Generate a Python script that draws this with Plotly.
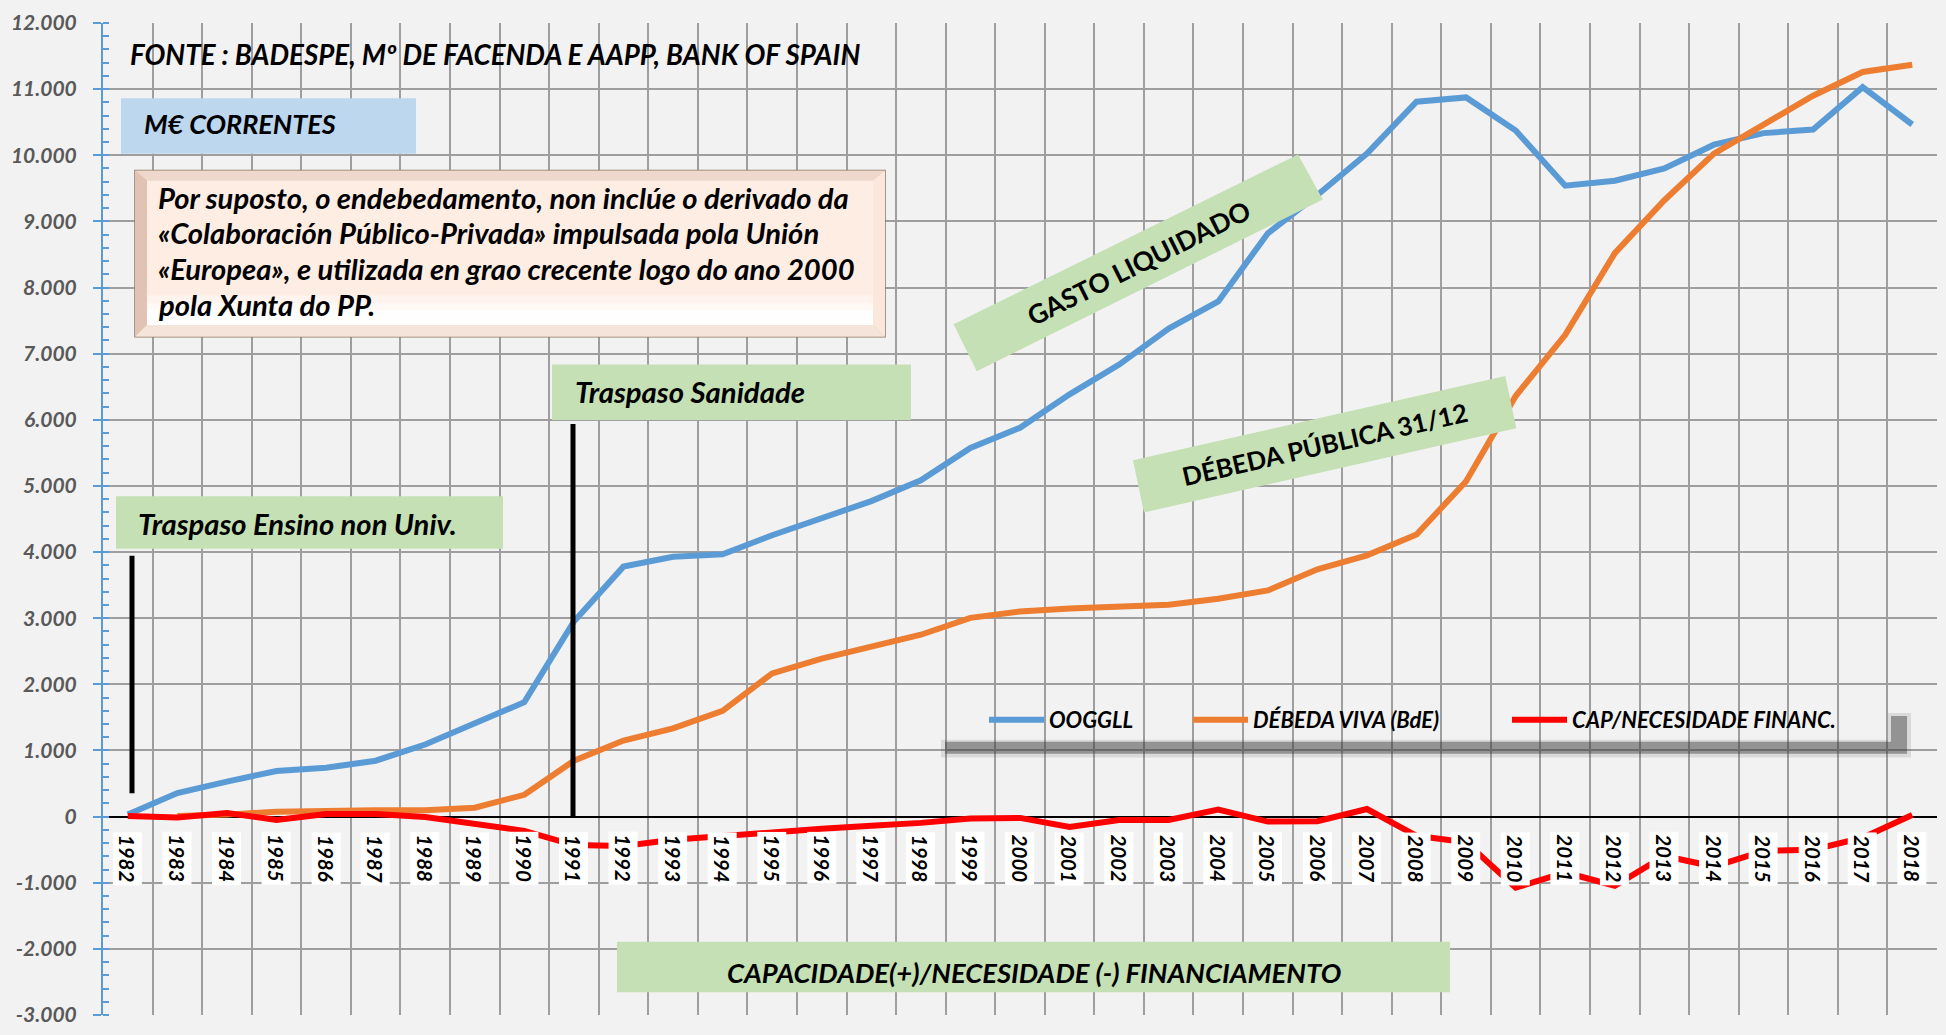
import plotly.graph_objects as go

# ---------------- data ----------------
years = list(range(1982, 2019))
ooggll = [30, 355, 530, 690, 740, 845, 1090, 1405, 1730, 2950, 3780, 3930, 3965,
          4255, 4510, 4770, 5085, 5575, 5880, 6385, 6835, 7380, 7790, 8820, 9400,
          10025, 10810, 10875, 10375, 9540, 9615, 9800, 10160, 10335, 10390, 11030, 10465]
debeda_viva = [None, 10, 30, 75, 90, 95, 95, 135, 330, 845, 1150, 1335, 1600,
               2165, 2390, 2570, 2750, 3005, 3100, 3145, 3175, 3205, 3295, 3420, 3740,
               3950, 4265, 5070, 6360, 7285, 8520, 9320, 10025, 10450, 10900, 11260, 11370]
cap_nec = [10, -15, 55, -50, 40, 40, -5, -105, -215, -430, -445, -350, -290,
           -245, -185, -137, -95, -30, -20, -155, -50, -50, 105, -75, -70,
           115, -290, -390, -1075, -845, -1045, -595, -755, -520, -500, -320, 25]
series_names = ["OOGGLL", "DÉBEDA VIVA (BdE)", "CAP/NECESIDADE FINANC."]
series_colors = ["#5B9BD5", "#ED7D31", "#FF0000"]
y_tickvals = list(range(-3000, 12001, 1000))
y_ticktext = ["-3.000", "-2.000", "-1.000", "0", "1.000", "2.000", "3.000", "4.000",
              "5.000", "6.000", "7.000", "8.000", "9.000", "10.000", "11.000", "12.000"]
year_labels = [str(y) for y in years]

# ---------------- geometry helpers (pixel -> paper) ----------------
W_FIG, H_FIG = 1946, 1035
L, R, T, B = 103, 1937, 19, 1021


def px(x):
    return (x - L) / (R - L)


def py(y):
    return (B - y) / (B - T)


def poly(points):
    return "M " + " L ".join(f"{px(x):.5f},{py(y):.5f}" for x, y in points) + " Z"


FONT = "Lato"
BG = "#F2F2F2"

fig = go.Figure()
legend_widths = [134, 249, 0]
for name, vals, col, lw in zip(series_names, [ooggll, debeda_viva, cap_nec], series_colors, legend_widths):
    tr = dict(x=years, y=vals, name=name, mode="lines",
              line=dict(color=col, width=6), connectgaps=False)
    if lw:
        tr["legendwidth"] = lw
    fig.add_trace(go.Scatter(**tr))

shapes = []
annotations = []


def rect(x0, y0, x1, y1, fill, line_color=None, line_width=0, layer="above", opacity=1):
    shapes.append(dict(type="rect", xref="paper", yref="paper",
                       x0=px(x0), x1=px(x1), y0=py(y1), y1=py(y0),
                       fillcolor=fill, opacity=opacity,
                       line=dict(color=line_color or "rgba(0,0,0,0)", width=line_width),
                       layer=layer))


def path(points, fill, line_color=None, line_width=0, layer="above"):
    shapes.append(dict(type="path", xref="paper", yref="paper", path=poly(points),
                       fillcolor=fill,
                       line=dict(color=line_color or "rgba(0,0,0,0)", width=line_width),
                       layer=layer))


def text(x, y, s, size=24, xanchor="left", angle=0, italic=True, color="black"):
    annotations.append(dict(xref="paper", yref="paper", x=px(x), y=py(y), text=s,
                            showarrow=False, xanchor=xanchor, yanchor="middle",
                            textangle=angle,
                            font=dict(family=FONT, size=size, color=color, weight="bold",
                                      style="italic" if italic else "normal")))


# source text
text(128, 51, "FONTE : BADESPE, Mº DE FACENDA E AAPP, BANK OF SPAIN", size=27.7)

# M€ CORRENTES
rect(121, 95, 416, 151, "#BDD7EE")
text(142, 121, "M€ CORRENTES", size=27)

# bevel box
ox0, oy0, ox1, oy1 = 135, 168, 885, 336
ix0, iy0, ix1, iy1 = 147, 178, 873, 324
rect(ox0, oy0, ox1, oy1, "#E6CABA", "#8E7668", 1.5)
path([(ox0, oy0), (ox1, oy0), (ix1, iy0), (ix0, iy0)], "#EED8CB")
path([(ox0, oy0), (ix0, iy0), (ix0, iy1), (ox0, oy1)], "#E0C3B3")
path([(ox1, oy0), (ox1, oy1), (ix1, iy1), (ix1, iy0)], "#FBE7DC")
path([(ox0, oy1), (ix0, iy1), (ix1, iy1), (ox1, oy1)], "#F4E4DA")
rect(ix0, iy0, ix1, iy1, "#FDEDE3")
rect(ix0, 294, ix1, iy1, "#FFFFFF", opacity=0.35)
rect(ix0, 302, ix1, iy1, "#FFFFFF", opacity=0.5)
rect(ix0, 309, ix1, iy1, "#FFFFFF", opacity=0.85)
bevel_lines = ["Por suposto, o endebedamento, non inclúe o derivado da",
               "«Colaboración Público-Privada» impulsada pola Unión",
               "«Europea», e utilizada en grao crecente logo do ano 2000",
               "pola Xunta do PP."]
for i, s in enumerate(bevel_lines):
    text(156, 195 + 36 * i, s, size=29.2)

# Traspaso boxes
rect(552, 364, 911, 420, "#C5E0B4")
text(573, 391, "Traspaso Sanidade", size=29.3)
rect(116, 497, 503, 550, "#C5E0B4")
text(136, 525, "Traspaso Ensino non Univ.", size=29.2)

# CAPACIDADE box
rect(617, 947, 1450, 998, "#C5E0B4")
text(1034, 978, "CAPACIDADE(+)/NECESIDADE (-) FINANCIAMENTO", size=27.4, xanchor="center")

# rotated boxes
path([(953.6, 323.3), (1298, 151.7), (1322.8, 197.3), (976.8, 370.7)], "#C5E0B4")
text(1138.5, 261, "GASTO LIQUIDADO", size=26.5, xanchor="center", angle=-26.5, italic=False)
path([(1133, 460.7), (1505.3, 375.6), (1516.3, 428.3), (1144, 513.4)], "#C5E0B4")
text(1324.6, 444.5, "DÉBEDA PÚBLICA 31/12", size=25.6, xanchor="center", angle=-12.9, italic=False)

# black marker lines
shapes.append(dict(type="line", xref="paper", yref="paper", x0=px(132), x1=px(132),
                   y0=py(557), y1=py(797), line=dict(color="black", width=5), layer="above"))
shapes.append(dict(type="line", xref="paper", yref="paper", x0=px(573), x1=px(573),
                   y0=py(424), y1=py(822), line=dict(color="black", width=5), layer="above"))

# legend shadow
path([(941, 743), (1888, 743), (1888, 716), (1911, 716), (1911, 761), (941, 761)],
     "rgba(60,60,60,0.13)")
path([(945, 745), (1891, 745), (1891, 719), (1907, 719), (1907, 757), (945, 757)],
     "rgba(60,60,60,0.45)")

# year labels in white boxes below the zero line
for yv, lab in zip(years, year_labels):
    annotations.append(dict(xref="x", yref="y", x=yv, y=0, text=lab, showarrow=False,
                            xanchor="center", yanchor="top", yshift=-15, textangle=90,
                            bgcolor="white", borderpad=2,
                            font=dict(family=FONT, size=20.5, color="black",
                                      weight="bold", style="italic")))

fig.update_layout(
    width=W_FIG, height=H_FIG,
    margin=dict(l=L, r=W_FIG - R, t=T, b=H_FIG - B, pad=0),
    paper_bgcolor=BG, plot_bgcolor=BG,
    shapes=shapes, annotations=annotations,
    showlegend=True,
    legend=dict(orientation="h", x=px(984), y=py(723), xanchor="left", yanchor="middle",
                bgcolor="rgba(0,0,0,0)", borderwidth=0, itemwidth=55,
                font=dict(family=FONT, size=22, color="black", weight="bold", style="italic")),
    xaxis=dict(range=[1981.5, 2018.5], tickmode="linear", tick0=1981.5, dtick=1,
               showticklabels=False, ticks="", showgrid=True, gridcolor="#9E9E9E",
               gridwidth=2, zeroline=False, showline=False),
    yaxis=dict(range=[-3000, 12000], tickmode="array", tickvals=y_tickvals,
               ticktext=y_ticktext, showgrid=True, gridcolor="#9E9E9E", gridwidth=2,
               zeroline=True, zerolinecolor="black", zerolinewidth=1.5,
               showline=True, linecolor="#5B9BD5", linewidth=2,
               ticks="outside", ticklen=8, tickcolor="#5B9BD5", tickwidth=2,
               ticklabelstandoff=12,
               minor=dict(dtick=200, ticks="inside", ticklen=6, tickcolor="#5B9BD5",
                          tickwidth=1.5, showgrid=False),
               tickfont=dict(family=FONT, size=21, color="#595959", weight="bold",
                             style="italic")),
    hovermode=False,
)

fig.write_html("out.html", config={"displayModeBar": False},
               post_script="document.body.style.margin='0';")
